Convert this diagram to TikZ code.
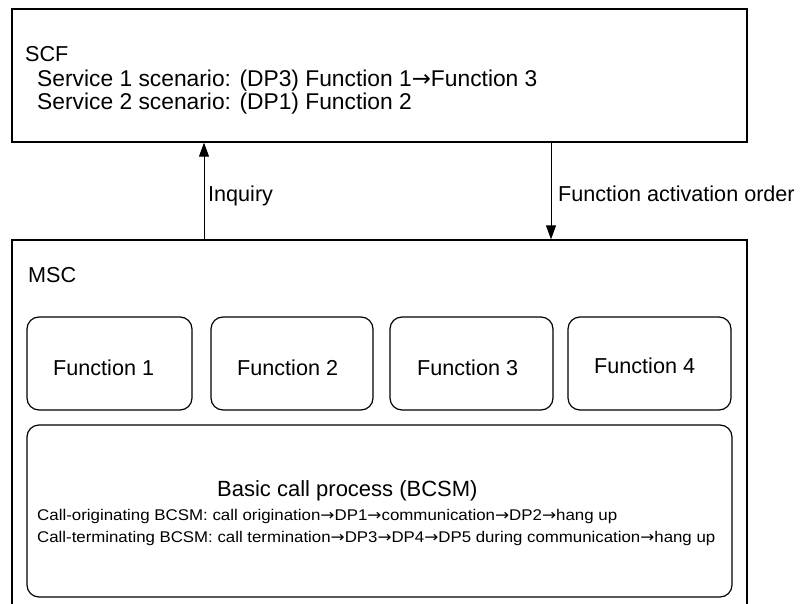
\documentclass[tikz,border=0pt]{standalone}
\usepackage{fontspec}
\usepackage{graphicx}
\setmainfont{Liberation Sans}
\newfontfamily\arrowfont{DejaVu Sans}
\usetikzlibrary{arrows.meta,calc}
% thin arrow used inside the sequences
\newcommand{\seqto}{{\arrowfont →}}
\begin{document}
\begin{tikzpicture}[x=1pt,y=-1pt,
  box/.style={draw, line width=1.3pt, inner sep=0},
  fbox/.style={draw, line width=1.2pt, rounded corners=12pt, inner sep=0},
  txt/.style={inner sep=0, anchor=base west, font=\fontsize{21.6}{24}\selectfont},
  big/.style={inner sep=0, anchor=base west, font=\fontsize{22.8}{26}\selectfont},
  small/.style={inner sep=0, anchor=base west, font=\fontsize{15.5}{18}\selectfont},
  link/.style={line width=0.9pt, -{Triangle[length=14pt,width=10pt]}}]
\useasboundingbox (0,0) rectangle (802,604);
\clip (0,0) rectangle (802,604);

% outer blocks
\node[box, minimum width=735pt, minimum height=133pt] (scf) at (379.5,75.5) {};
\node[box, minimum width=735pt, minimum height=400pt] (msc) at (379.5,440) {};

% functions inside the MSC
\node[fbox, minimum width=165pt, minimum height=93pt] (f1) at (109.5,363.5) {};
\node[fbox, minimum width=162pt, minimum height=93pt] (f2) at (292,363.5) {};
\node[fbox, minimum width=163pt, minimum height=93pt] (f3) at (471.5,363.5) {};
\node[fbox, minimum width=163pt, minimum height=93pt] (f4) at (649.5,363.5) {};
\node[fbox, minimum width=705pt, minimum height=172pt] (bcsm) at (379.5,511) {};

% SCF texts
\node[txt] (scft) at (25,62) {SCF};
\node[big] (sv1) at (37,87) {Service 1 scenario: (DP3) Function 1\seqto Function 3};
\node[big] (sv2) at (37,110) {Service 2 scenario: (DP1) Function 2};

% messages between SCF and MSC
\coordinate (inqx) at (204,190);
\coordinate (actx) at (551,190);
\draw[link] (msc.north -| inqx) -- (scf.south -| inqx);
\draw[link] (scf.south -| actx) -- (msc.north -| actx);
\node[txt] (inq) at (208,201) {Inquiry};
\node[txt] (act) at (558,201) {Function activation order};

% MSC texts
\node[txt] (msct) at (28,282) {MSC};
\node[txt] (f1t) at (53,375) {Function 1};
\node[txt] (f2t) at (237,375) {Function 2};
\node[txt] (f3t) at (417,375) {Function 3};
\node[txt] (f4t) at (594,373) {Function 4};

\node[txt, font=\fontsize{22}{24}\selectfont] (bct) at (217,496) {Basic call process (BCSM)};
\node[small] (orig) at (37,520) {\resizebox{580pt}{\height}{Call-originating BCSM: call origination\seqto DP1\seqto communication\seqto DP2\seqto hang up}};
\node[small] (term) at (37,542) {\resizebox{678pt}{\height}{Call-terminating BCSM: call termination\seqto DP3\seqto DP4\seqto DP5 during communication\seqto hang up}};
\end{tikzpicture}
\end{document}
